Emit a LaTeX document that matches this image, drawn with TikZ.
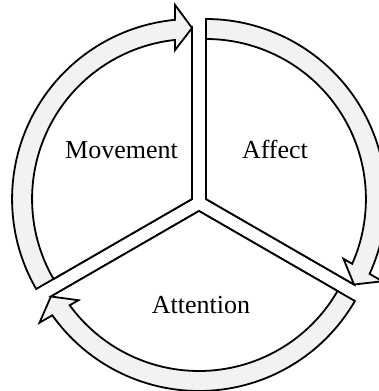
\documentclass[tikz,border=0pt]{standalone}
\usepackage{fontspec}
\setmainfont{Liberation Serif}
\usetikzlibrary{positioning}
\definecolor{bandfill}{HTML}{F2F2F2}

\begin{document}
\begin{tikzpicture}[x=1pt,y=1pt,
  band/.style={fill=bandfill,draw=black,line width=1.8pt},
  core/.style={fill=white,draw=black,line width=1.8pt},
  phase/.style={font=\fontsize{26}{30}\selectfont,anchor=base,inner sep=0pt}]
  \useasboundingbox (-199,-188) rectangle (180,203);
  % three exploded sectors, each with a clockwise arrow rim
  \foreach \rot/\dir in {0/150,-120/30,120/270}{
    \begin{scope}[shift={(\dir:8)},rotate=\rot]
      \draw[band] (0,0) -- (210:180) arc[start angle=210,end angle=95.42,radius=180pt] -- (-17,194) -- (0,171) -- cycle;
      \draw[core] (0,0) -- (210:160) arc[start angle=210,end angle=96.1,radius=160pt] -- (-17,149) -- (0,171) -- cycle;
    \end{scope}
  }
  \node[phase] (movement) at (-77.5,45) {Movement};
  \node[phase] (affect) at (76,45) {Affect};
  \node[phase] (attention) at (2,-110) {Attention};
\end{tikzpicture}
\end{document}
